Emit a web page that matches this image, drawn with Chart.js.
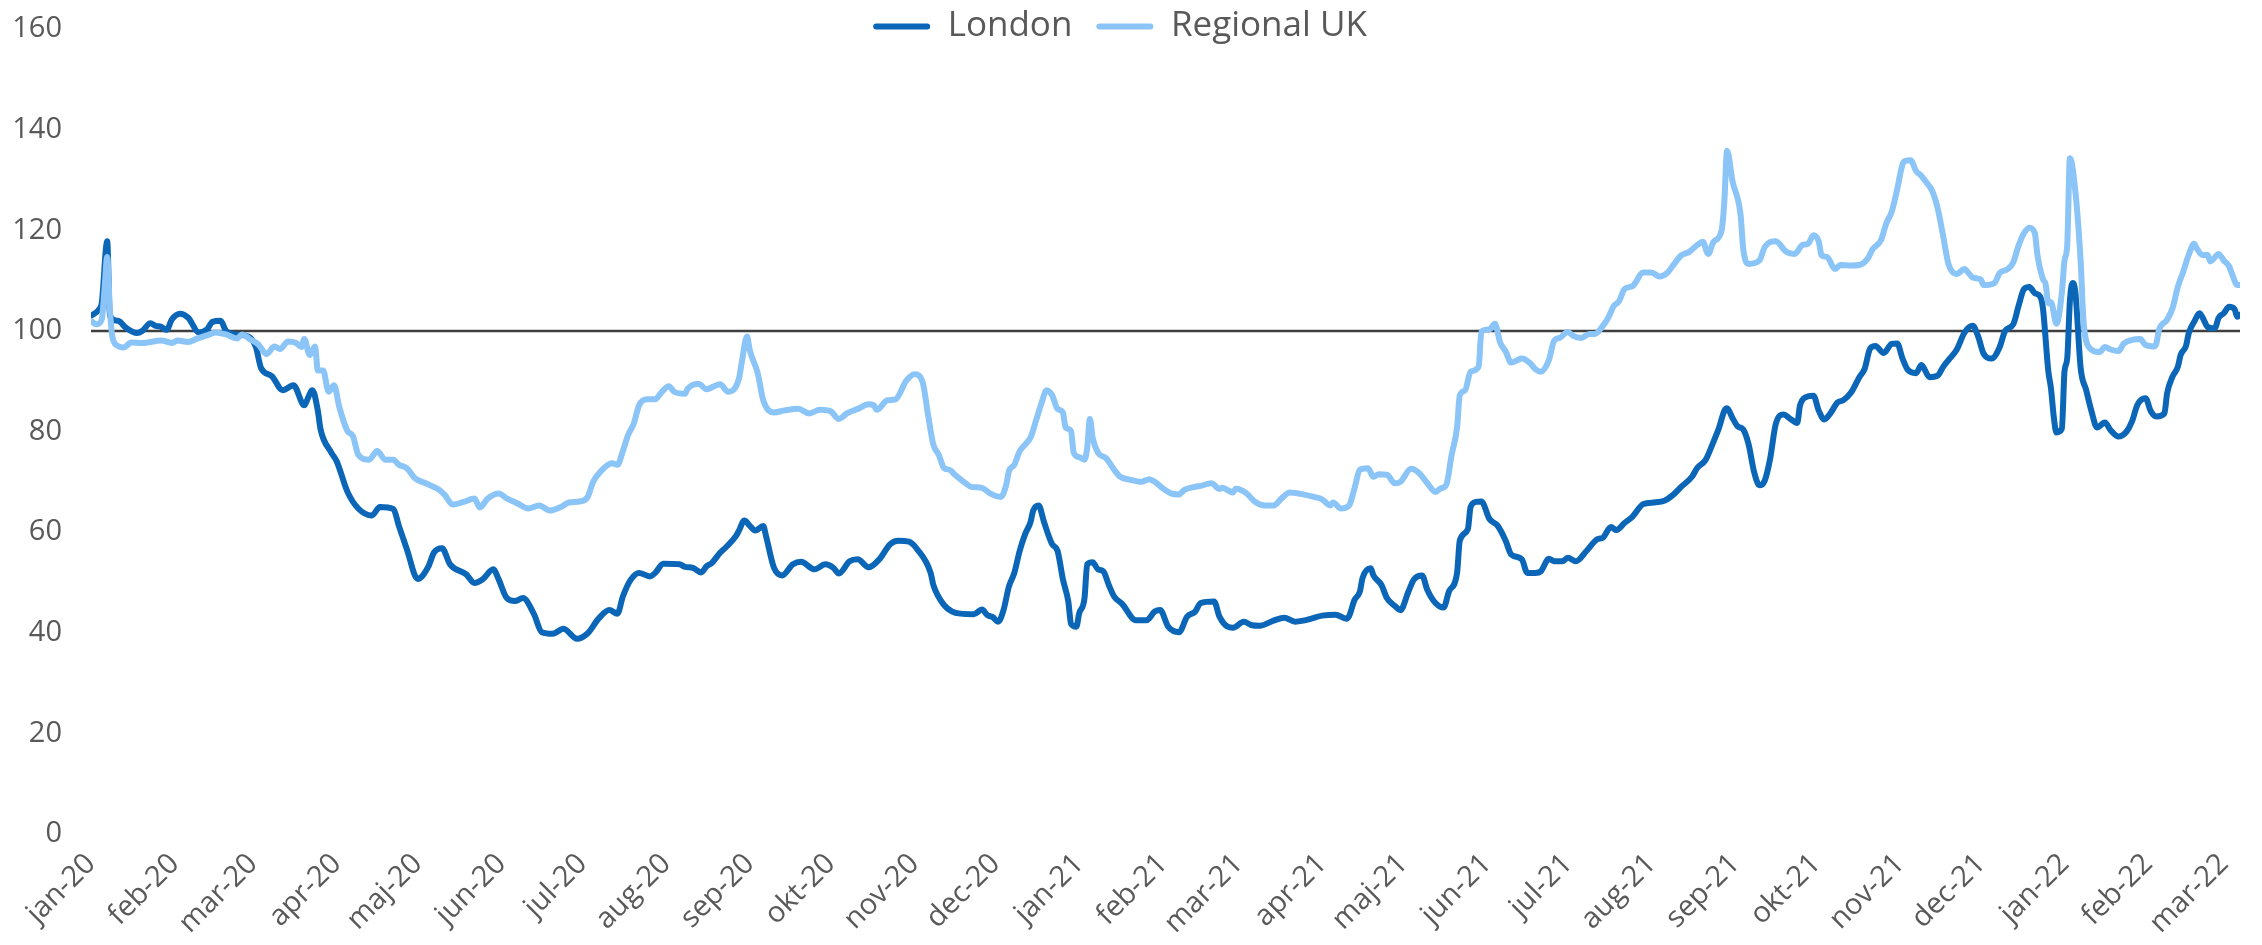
<!DOCTYPE html>
<html>
<head>
<meta charset="utf-8">
<title>London vs Regional UK</title>
<script src="https://cdn.jsdelivr.net/npm/chart.js@4.4.1/dist/chart.umd.min.js"></script>
<style>
  html, body { margin: 0; padding: 0; background: #ffffff; }
  #wrap { width: 2262px; height: 945px; }
</style>
</head>
<body>
<div id="wrap"><canvas id="indexChart" width="2262" height="945"></canvas></div>
<script>
// Asse x: giorni dal 1 gen 2020, etichette mensili
const monthLabels = ['jan-20', 'feb-20', 'mar-20', 'apr-20', 'maj-20', 'jun-20', 'jul-20', 'aug-20', 'sep-20',
    'okt-20', 'nov-20', 'dec-20', 'jan-21', 'feb-21', 'mar-21', 'apr-21', 'maj-21', 'jun-21', 'jul-21',
    'aug-21', 'sep-21', 'okt-21', 'nov-21', 'dec-21', 'jan-22', 'feb-22', 'mar-22'];
const monthStarts = [0, 31, 60, 91, 121, 152, 182, 213, 244, 274, 305, 335, 366, 397, 425, 456, 486, 517, 547,
    578, 609, 639, 670, 700, 731, 762, 790];
const lastDay = 796;
const yTicks = { min: 0, max: 160, step: 20 };
const baseline = 100;

// London
const londonDays = [0, 3, 4, 6, 7, 10, 13, 17, 19, 22, 24, 26, 28, 30, 33, 36, 40, 43, 45, 48, 50, 53, 57, 61, 63,
    67, 71, 75, 79, 80, 82, 84, 85, 89, 91, 95, 99, 104, 107, 112, 114, 117, 121, 125, 127, 130, 133, 139, 142, 145,
    149, 151, 154, 157, 160, 164, 167, 171, 175, 180, 184, 188, 192, 195, 197, 200, 203, 207, 209, 212, 218, 220,
    223, 226, 228, 230, 233, 235, 239, 240, 242, 244, 246, 249, 250, 253, 256, 260, 263, 268, 272, 275, 277, 281,
    284, 288, 292, 296, 299, 303, 306, 311, 312, 316, 319, 322, 327, 330, 332, 334, 336, 338, 340, 342, 344, 346,
    348, 349, 351, 353, 356, 358, 360, 362, 363, 365, 366, 368, 369, 371, 373, 375, 377, 379, 382, 387, 391, 394,
    396, 399, 403, 406, 409, 411, 416, 418, 421, 423, 427, 430, 433, 438, 442, 446, 449, 452, 456, 461, 465, 466,
    468, 470, 471, 474, 475, 478, 480, 483, 485, 488, 490, 493, 495, 498, 501, 503, 506, 507, 510, 511, 513, 515,
    518, 521, 524, 526, 530, 532, 535, 537, 540, 542, 545, 547, 550, 554, 558, 560, 563, 565, 568, 571, 575, 579,
    583, 586, 589, 593, 595, 598, 601, 603, 605, 606, 608, 610, 612, 614, 616, 618, 620, 622, 624, 627, 629, 632,
    633, 635, 638, 640, 642, 644, 647, 649, 652, 655, 657, 659, 661, 664, 667, 669, 671, 673, 676, 678, 681, 684,
    686, 688, 691, 694, 697, 699, 701, 704, 707, 709, 712, 714, 716, 718, 720, 722, 723, 725, 726, 727, 728, 730,
    731, 732, 733, 734, 735, 737, 739, 741, 743, 746, 748, 751, 754, 756, 758, 761, 763, 765, 768, 769, 771, 773,
    774, 776, 777, 779, 781, 782, 784, 786, 787, 788, 790, 792, 794, 795, 796];
const londonValues = [103.0, 104.3, 105.6, 117.8, 103.0, 102.0, 100.6, 99.6, 100.0, 101.5, 101.0, 100.8, 100.2,
    102.3, 103.4, 102.6, 99.7, 100.3, 101.8, 102.0, 100.0, 99.3, 99.1, 96.9, 92.6, 91.0, 88.2, 89.2, 85.2, 86.2,
    88.2, 84.2, 80.5, 75.8, 74.1, 68.0, 64.7, 63.3, 65.0, 64.6, 61.3, 56.6, 50.7, 53.2, 55.9, 56.8, 53.6, 51.6,
    49.9, 50.6, 52.6, 50.6, 46.9, 46.3, 46.9, 43.8, 40.1, 39.8, 40.8, 38.8, 39.9, 42.8, 44.5, 43.8, 47.2, 50.6,
    51.9, 51.2, 51.9, 53.7, 53.6, 53.1, 52.9, 52.0, 53.2, 53.9, 55.9, 56.9, 59.3, 60.3, 62.3, 61.3, 60.3, 61.2,
    59.3, 52.9, 51.4, 53.6, 54.1, 52.6, 53.6, 52.9, 51.8, 54.2, 54.6, 53.0, 54.6, 57.6, 58.3, 58.1, 56.6, 51.9,
    49.5, 45.5, 44.2, 43.8, 43.7, 44.6, 43.5, 43.1, 42.2, 44.5, 49.2, 51.9, 56.3, 59.6, 62.0, 64.3, 65.3, 62.0,
    57.6, 56.3, 50.6, 46.2, 41.8, 41.2, 43.8, 46.9, 53.6, 54.0, 52.6, 52.2, 49.5, 47.2, 45.7, 42.5, 42.5, 44.2,
    44.5, 41.2, 40.1, 43.2, 44.2, 45.9, 46.2, 43.2, 41.2, 41.0, 42.2, 41.5, 41.4, 42.4, 43.0, 42.2, 42.4, 42.8,
    43.4, 43.6, 42.8, 43.3, 46.5, 48.2, 50.9, 52.8, 51.4, 49.5, 46.9, 45.3, 44.5, 48.2, 50.6, 51.4, 48.5, 45.9,
    45.0, 48.2, 51.9, 58.3, 60.6, 65.0, 66.0, 66.1, 62.6, 61.3, 58.3, 55.6, 54.6, 51.9, 51.9, 52.2, 54.7, 54.2,
    54.2, 54.9, 54.2, 56.3, 58.6, 58.9, 61.0, 60.4, 61.8, 63.1, 65.6, 65.9, 66.3, 67.4, 69.0, 71.0, 72.8, 74.3,
    78.0, 80.7, 84.1, 84.6, 82.7, 81.0, 80.4, 77.4, 72.0, 69.3, 70.3, 74.7, 81.4, 83.4, 82.7, 81.7, 85.1, 86.8,
    87.1, 84.1, 82.4, 83.4, 85.8, 86.2, 87.8, 90.8, 92.5, 96.5, 97.0, 95.6, 97.4, 97.5, 94.5, 92.2, 91.6, 93.2,
    90.8, 91.1, 92.8, 94.2, 96.2, 99.7, 101.0, 98.9, 95.5, 94.5, 96.8, 100.0, 101.3, 105.0, 108.3, 108.7, 107.5,
    106.8, 104.5, 92.0, 88.5, 83.0, 79.8, 80.5, 92.0, 94.5, 106.0, 109.5, 107.8, 92.5, 88.3, 84.0, 80.8, 81.8,
    80.3, 79.0, 80.0, 82.0, 85.3, 86.6, 84.0, 83.0, 83.6, 87.6, 90.9, 92.9, 95.2, 97.0, 99.5, 101.8, 103.5, 102.8,
    100.8, 100.5, 100.8, 102.5, 103.5, 104.8, 104.3, 102.8, 103.2];

// Regional UK
const regionalDays = [0, 2, 4, 5, 6, 7, 8, 10, 12, 15, 19, 26, 30, 32, 36, 39, 44, 46, 50, 54, 56, 59, 62, 65, 68,
    70, 73, 76, 78, 79, 81, 83, 84, 86, 88, 90, 92, 95, 97, 99, 103, 106, 109, 112, 114, 117, 120, 124, 129, 131,
    134, 138, 142, 144, 147, 151, 154, 158, 162, 166, 170, 174, 177, 181, 184, 186, 189, 193, 195, 197, 199, 201,
    203, 206, 209, 211, 214, 216, 220, 221, 225, 228, 233, 236, 240, 241, 243, 244, 247, 249, 253, 257, 262, 266,
    270, 274, 277, 280, 284, 288, 290, 291, 295, 298, 302, 305, 308, 310, 312, 314, 316, 318, 320, 324, 326, 330,
    333, 337, 339, 340, 342, 344, 346, 348, 350, 352, 354, 356, 358, 360, 361, 363, 364, 366, 368, 369, 370, 371,
    373, 376, 379, 381, 385, 389, 392, 394, 397, 400, 403, 405, 409, 411, 415, 418, 419, 423, 424, 428, 431, 435,
    438, 441, 444, 449, 453, 456, 459, 460, 463, 466, 468, 470, 473, 475, 477, 480, 483, 485, 489, 492, 495, 498,
    500, 502, 504, 506, 507, 509, 511, 514, 515, 518, 520, 522, 524, 526, 530, 533, 535, 537, 540, 542, 544, 547,
    549, 552, 555, 557, 560, 562, 564, 566, 568, 571, 575, 578, 581, 584, 586, 589, 592, 595, 597, 599, 601, 604,
    605, 606, 608, 611, 612, 614, 618, 620, 624, 628, 631, 634, 636, 638, 640, 641, 643, 646, 648, 652, 655, 658,
    660, 663, 665, 667, 669, 671, 672, 674, 676, 678, 680, 682, 684, 686, 688, 691, 694, 695, 697, 700, 701, 705,
    707, 710, 712, 714, 716, 718, 720, 721, 723, 724, 725, 726, 728, 730, 731, 732, 733, 735, 737, 738, 740, 744,
    746, 748, 751, 753, 756, 759, 761, 764, 765, 766, 769, 771, 773, 775, 777, 779, 780, 782, 784, 785, 787, 788,
    790, 792, 793, 795, 796];
const regionalValues = [102.0, 101.3, 102.3, 108.3, 114.7, 104.3, 98.6, 97.0, 96.7, 97.7, 97.6, 98.1, 97.6, 98.1,
    97.8, 98.4, 99.3, 99.7, 99.3, 98.5, 99.3, 98.3, 97.3, 95.4, 96.9, 96.4, 97.9, 97.6, 96.8, 98.4, 95.2, 96.9,
    92.1, 92.1, 87.9, 89.2, 84.8, 80.1, 79.1, 75.4, 74.4, 76.1, 74.4, 74.4, 73.4, 72.7, 70.7, 69.7, 68.4, 67.4,
    65.5, 66.0, 66.7, 64.9, 66.7, 67.7, 66.7, 65.7, 64.7, 65.3, 64.3, 65.0, 65.9, 66.1, 67.0, 70.0, 72.2, 73.7,
    73.4, 76.1, 79.4, 81.5, 85.2, 86.4, 86.4, 87.6, 89.0, 87.9, 87.5, 88.5, 89.5, 88.4, 89.4, 87.9, 90.5, 93.6,
    98.9, 96.2, 91.5, 86.2, 83.8, 84.2, 84.5, 83.6, 84.3, 84.0, 82.5, 83.6, 84.5, 85.4, 85.2, 84.3, 86.2, 86.4,
    90.1, 91.4, 89.9, 83.5, 77.4, 75.4, 72.7, 72.4, 71.4, 69.7, 69.0, 68.8, 67.7, 67.0, 69.4, 72.1, 73.4, 76.1,
    77.4, 78.8, 82.1, 85.5, 88.2, 87.2, 84.5, 83.8, 80.8, 80.1, 75.8, 74.9, 74.4, 76.8, 82.5, 78.8, 75.8, 74.7,
    72.4, 71.1, 70.4, 70.0, 70.5, 70.0, 68.7, 67.7, 67.5, 68.4, 69.0, 69.2, 69.7, 68.6, 68.8, 67.9, 68.6, 67.7,
    66.1, 65.3, 65.3, 66.7, 67.9, 67.5, 67.0, 66.5, 65.3, 65.9, 64.7, 65.3, 68.7, 72.4, 72.7, 71.0, 71.5, 71.4,
    69.7, 70.0, 72.6, 71.7, 69.7, 68.0, 68.7, 69.4, 75.4, 80.8, 87.2, 88.2, 91.9, 92.9, 99.9, 100.3, 101.4, 97.6,
    95.9, 93.7, 94.5, 93.6, 92.4, 91.9, 94.2, 98.1, 98.6, 99.8, 99.0, 98.6, 99.4, 99.4, 101.0, 102.6, 104.9, 105.9,
    108.3, 108.9, 111.6, 111.6, 110.8, 111.6, 113.0, 115.0, 115.7, 117.1, 117.7, 115.3, 117.7, 120.0, 125.7, 135.8,
    129.8, 123.1, 116.3, 113.3, 114.0, 116.7, 117.8, 115.7, 115.3, 117.1, 117.3, 119.0, 117.7, 115.0, 114.7, 112.3,
    113.1, 113.0, 113.1, 114.3, 116.3, 118.0, 121.4, 123.7, 128.1, 133.1, 133.8, 133.9, 131.8, 130.8, 129.4, 127.8,
    124.4, 119.0, 113.3, 111.3, 112.3, 111.8, 110.6, 110.2, 109.1, 109.5, 111.5, 112.3, 113.6, 117.0, 119.4, 120.5,
    119.4, 115.0, 110.3, 109.3, 105.5, 105.7, 101.4, 107.5, 114.0, 117.0, 134.3, 127.8, 113.6, 102.2, 96.8, 95.8,
    96.8, 96.3, 96.0, 97.5, 98.2, 98.4, 97.2, 96.9, 97.5, 100.2, 102.2, 104.5, 108.8, 111.8, 115.1, 117.3, 116.4,
    115.1, 115.1, 113.8, 114.8, 115.3, 114.0, 112.8, 111.4, 109.1, 109.1];

// Unisce giorni e valori in punti {x, y}
function toPoints(days, values) {
    return days.map((d, i) => ({ x: d, y: values[i] }));
}

// La legenda sta sopra l'area del grafico come in Excel
const legendOverlay = {
    id: 'legendOverlay',
    beforeInit(chart) {
        const originalFit = chart.legend.fit;
        chart.legend.fit = function () {
            originalFit.call(this);
            this.height = 29;
        };
    },
    afterLayout(chart) {
        // padding più largo tra le voci, compensato spostando la legenda in su
        chart.legend.top = -15;
        chart.legend.height = 80;
        chart.legend.bottom = 65;
    }
};

Chart.defaults.font.family = "'Open Sans', 'Noto Sans', sans-serif";
Chart.defaults.color = '#595959';

const ctx = document.getElementById('indexChart').getContext('2d');
const indexChart = new Chart(ctx, {
    type: 'line',
    data: {
        datasets: [
            {
                label: 'London',
                data: toPoints(londonDays, londonValues),
                borderColor: '#0B66B8',
                backgroundColor: '#0B66B8',
                borderWidth: 6,
                pointRadius: 0,
                cubicInterpolationMode: 'monotone',
                borderJoinStyle: 'round',
                borderCapStyle: 'round',
                order: 2
            },
            {
                label: 'Regional UK',
                data: toPoints(regionalDays, regionalValues),
                borderColor: '#8BC4F7',
                backgroundColor: '#8BC4F7',
                borderWidth: 6,
                pointRadius: 0,
                cubicInterpolationMode: 'monotone',
                borderJoinStyle: 'round',
                borderCapStyle: 'round',
                order: 1
            },
            {
                label: '',
                data: [{ x: 0, y: baseline }, { x: lastDay, y: baseline }],
                borderColor: '#3F3F3F',
                borderWidth: 2.5,
                pointRadius: 0,
                order: 3
            }
        ]
    },
    options: {
        responsive: false,
        devicePixelRatio: 1,
        animation: false,
        layout: {
            padding: { top: 0, left: 0, right: 22, bottom: 0 }
        },
        plugins: {
            legend: {
                position: 'top',
                align: 'center',
                labels: {
                    boxWidth: 57,
                    boxHeight: 6,
                    padding: 24,
                    color: '#595959',
                    font: { size: 35 },
                    useBorderRadius: true,
                    borderRadius: 3,
                    filter: item => item.datasetIndex < 2,
                    sort: (a, b) => a.datasetIndex - b.datasetIndex,
                    generateLabels(chart) {
                        return Chart.defaults.plugins.legend.labels.generateLabels(chart).map(item => {
                            item.fillStyle = item.strokeStyle;
                            item.lineWidth = 0;
                            return item;
                        });
                    }
                }
            },
            tooltip: { enabled: false }
        },
        scales: {
            x: {
                type: 'linear',
                min: 0,
                max: lastDay,
                grid: { display: false, drawTicks: false },
                border: { display: false },
                afterBuildTicks: scale => {
                    scale.ticks = monthStarts.map(v => ({ value: v }));
                },
                afterFit: scale => {
                    scale.height = 111;
                    scale.paddingLeft = 0;
                    scale.paddingRight = 0;
                },
                ticks: {
                    autoSkip: false,
                    minRotation: 45,
                    maxRotation: 45,
                    padding: 13,
                    color: '#595959',
                    font: { size: 29 },
                    callback: (value, index) => monthLabels[index]
                }
            },
            y: {
                min: yTicks.min,
                max: yTicks.max,
                grid: { display: false, drawTicks: false },
                border: { display: false },
                afterFit: scale => {
                    scale.width = 91;
                    scale.paddingTop = 0;
                    scale.paddingBottom = 0;
                },
                ticks: {
                    stepSize: yTicks.step,
                    padding: 29,
                    color: '#595959',
                    font: { size: 29 }
                }
            }
        }
    },
    plugins: [legendOverlay]
});
</script>
</body>
</html>
